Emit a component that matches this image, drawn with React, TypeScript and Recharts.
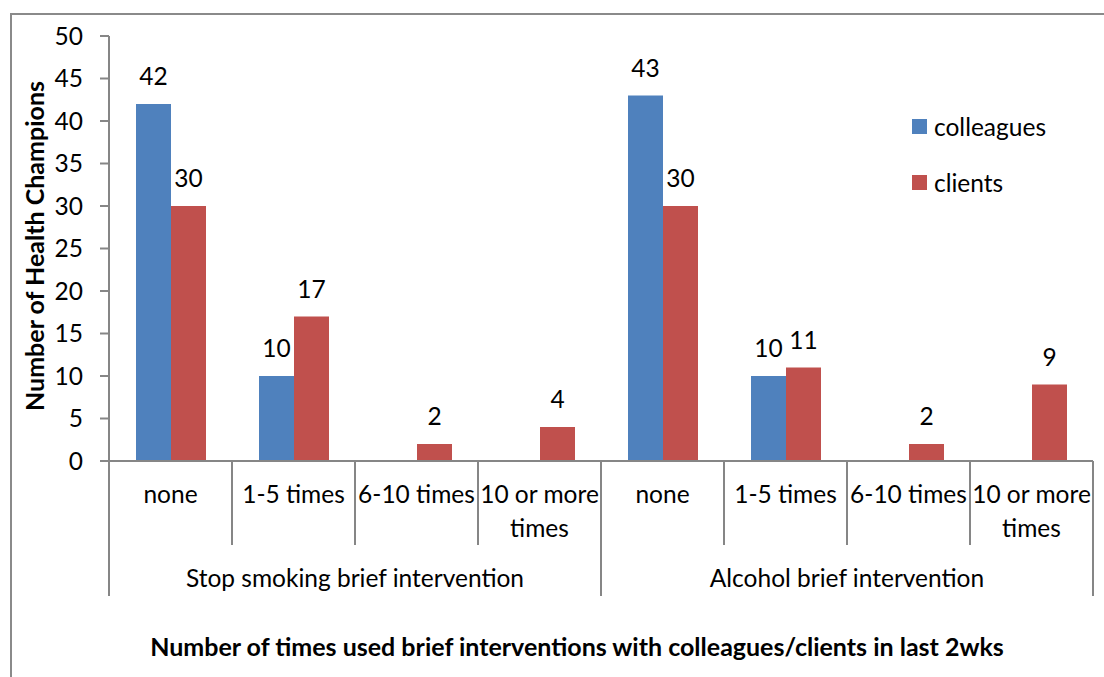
import { BarChart, Bar, XAxis, YAxis, Legend, LabelList } from "recharts";

const CATEGORIES = [
  "none",
  "1-5 times",
  "6-10 times",
  "10 or more\ntimes",
  "none",
  "1-5 times",
  "6-10 times",
  "10 or more\ntimes",
];
const GROUPS = ["Stop smoking brief intervention", "Alcohol brief intervention"];
const COLLEAGUES = [42, 10, null, null, 43, 10, null, null];
const CLIENTS = [30, 17, 2, 4, 30, 11, 2, 9];
const Y_TICKS = [0, 5, 10, 15, 20, 25, 30, 35, 40, 45, 50];

const SERIES = [
  { key: "colleagues", name: "colleagues", color: "#4F81BD" },
  { key: "clients", name: "clients", color: "#C0504D" },
];

const FONT = "Lato, 'Open Sans', sans-serif";
const AXIS = "#868686";
const FS = 24.5;
const TITLE_FS = 25;

const data = CATEGORIES.map((c, i) => ({
  id: i,
  label: c,
  colleagues: COLLEAGUES[i],
  clients: CLIENTS[i],
}));

function CategoryTick(props: any) {
  const { x, y, payload, index } = props;
  const half = payload?.offset || 61.5;
  const left = x - half;
  const lines = CATEGORIES[index].split("\n");
  return (
    <g>
      <line
        x1={left}
        x2={left}
        y1={y}
        y2={y + (index % 4 === 0 ? 135 : 84)}
        stroke={AXIS}
        strokeWidth={2}
      />
      {index === CATEGORIES.length - 1 && (
        <line x1={x + half} x2={x + half} y1={y} y2={y + 135} stroke={AXIS} strokeWidth={2} />
      )}
      {lines.map((l, k) => (
        <text key={k} x={x} y={y + 42 + k * 34} textAnchor="middle" fontSize={FS} fontFamily={FONT} fill="#000">
          {l}
        </text>
      ))}
      {index % 4 === 0 && (
        <text x={left + 4 * half} y={y + 126} textAnchor="middle" fontSize={FS} fontFamily={FONT} fill="#000">
          {GROUPS[index / 4]}
        </text>
      )}
    </g>
  );
}

function ValueLabel(props: any) {
  const { x, y, width, value } = props;
  if (value == null || value === 0) return null;
  return (
    <text x={x + width / 2} y={y - 19} textAnchor="middle" fontSize={FS} fontFamily={FONT} fill="#000">
      {value}
    </text>
  );
}

function LegendBox() {
  return (
    <div style={{ fontFamily: FONT, fontSize: FS, color: "#000" }}>
      {SERIES.map((s) => (
        <div key={s.key} style={{ display: "flex", alignItems: "center", height: 56 }}>
          <span style={{ width: 15, height: 15, background: s.color, marginRight: 7 }} />
          <span>{s.name}</span>
        </div>
      ))}
    </div>
  );
}

export default function App() {
  return (
    <div
      style={{
        position: "fixed",
        left: 0,
        top: 0,
        width: 1104,
        height: 677,
        overflow: "hidden",
        background: "#fff",
      }}
    >
      <div
        style={{
          position: "absolute",
          left: 10,
          top: 13,
          width: 1200,
          height: 800,
          border: "2px solid #8a8a8a",
        }}
      />
      <div style={{ position: "absolute", left: 0, top: 0 }}>
        <BarChart
          width={1104}
          height={677}
          data={data}
          margin={{ top: 36, right: 11, left: 0, bottom: 16 }}
          barSize={35}
          barGap={0}
        >
          <XAxis
            dataKey="id"
            interval={0}
            height={200}
            tickLine={false}
            tickSize={0}
            tickMargin={0}
            axisLine={{ stroke: AXIS, strokeWidth: 2 }}
            tick={<CategoryTick />}
          />
          <YAxis
            width={109}
            domain={[0, 50]}
            ticks={Y_TICKS}
            interval={0}
            tickSize={9}
            tickMargin={17}
            axisLine={{ stroke: AXIS, strokeWidth: 2 }}
            tickLine={{ stroke: AXIS, strokeWidth: 2 }}
            tick={{ fill: "#000", fontSize: FS, fontFamily: FONT }}
          />
          <Legend
            layout="horizontal"
            verticalAlign="middle"
            align="center"
            content={() => <LegendBox />}
            wrapperStyle={{ left: 912, top: 98, width: 190, height: 112 }}
          />
          {SERIES.map((s) => (
            <Bar key={s.key} dataKey={s.key} name={s.name} fill={s.color} isAnimationActive={false}>
              <LabelList dataKey={s.key} content={<ValueLabel />} />
            </Bar>
          ))}
        </BarChart>
      </div>
      <svg
        width={1104}
        height={677}
        style={{ position: "absolute", left: 0, top: 0, pointerEvents: "none" }}
      >
        <text
          x={577}
          y={656}
          textAnchor="middle"
          fontSize={TITLE_FS}
          fontWeight="bold"
          fontFamily={FONT}
          fill="#000"
        >
          Number of times used brief interventions with colleagues/clients in last 2wks
        </text>
        <text
          transform="translate(44 246) rotate(-90)"
          textAnchor="middle"
          fontSize={TITLE_FS}
          fontWeight="bold"
          fontFamily={FONT}
          fill="#000"
        >
          Number of Health Champions
        </text>
      </svg>
    </div>
  );
}
